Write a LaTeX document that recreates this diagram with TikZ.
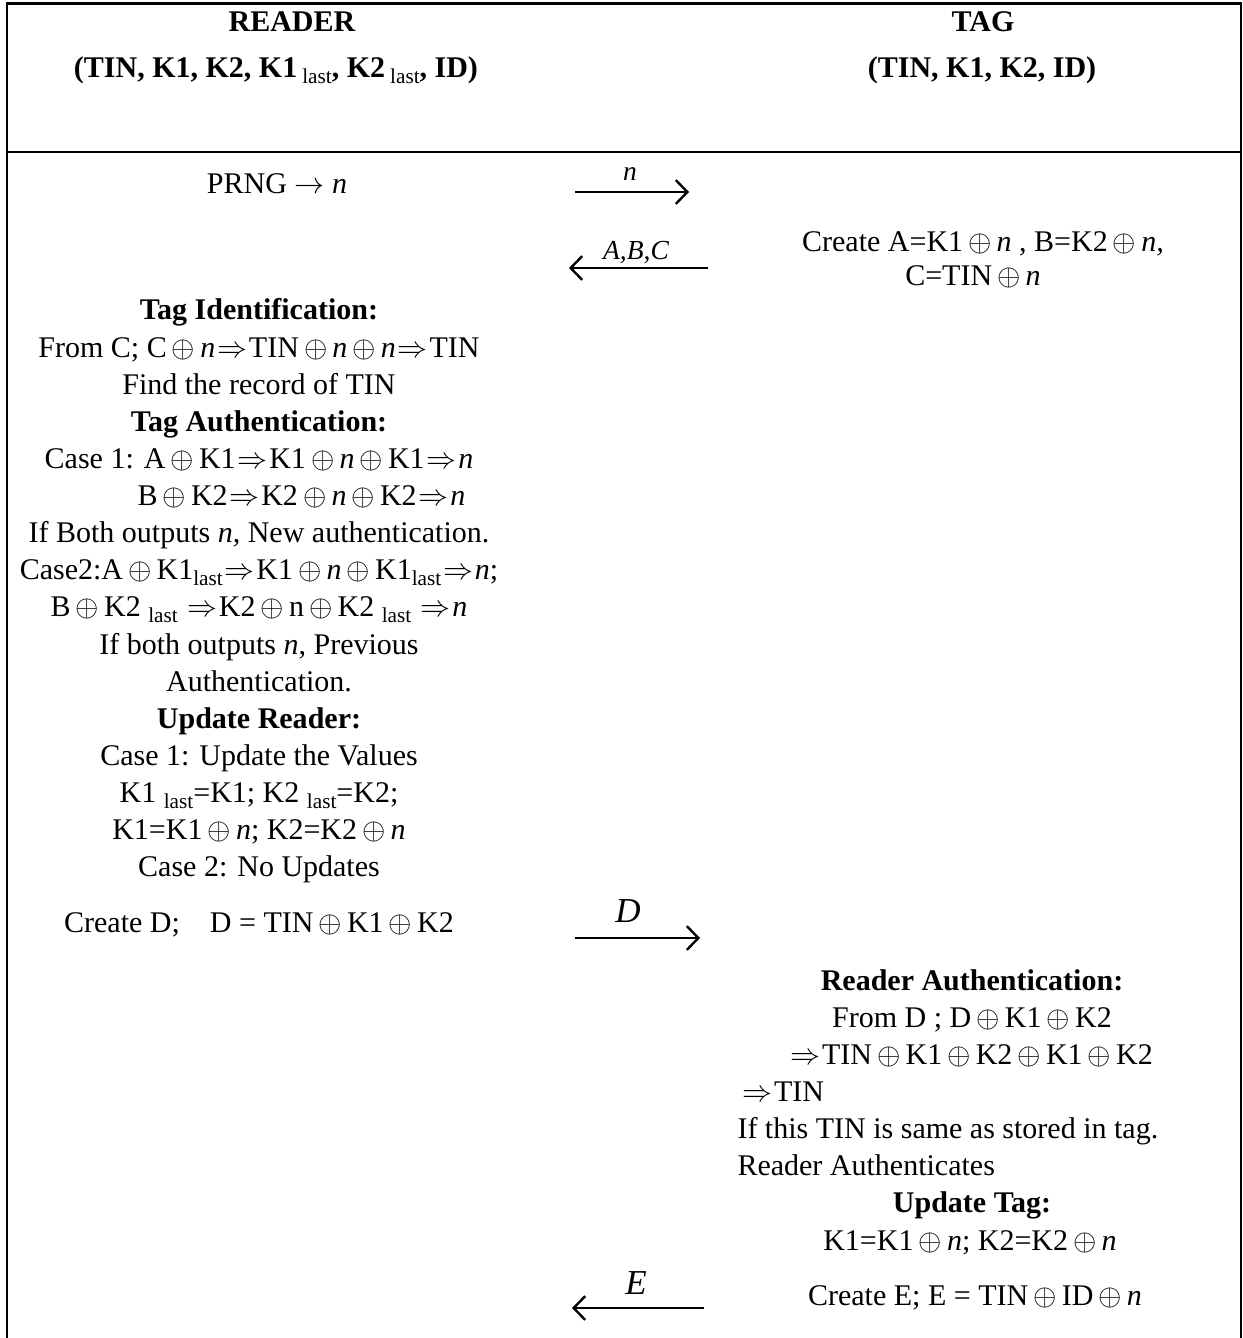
\documentclass[tikz,border=0pt]{standalone}
\usepackage{fontspec}
\setmainfont{Liberation Serif}
\usetikzlibrary{arrows.meta}
% xor, implication and the small "last" subscript
\newcommand\xo{\hspace{0.17em}$\oplus$\hspace{0.17em}}
\newcommand\thn{\hspace{0.06em}$\Rightarrow$\hspace{0.06em}}
\newcommand\sublast{{\mdseries\fontsize{8.5}{9}\selectfont\raisebox{-2.4pt}{last}}}
\newcommand\nn{\textit{n}}
\begin{document}
\begin{tikzpicture}[x=0.4pt,y=-0.4pt,
  font=\fontsize{12}{14}\selectfont,
  txt/.style={anchor=base, inner sep=0pt},
  txtl/.style={anchor=base west, inner sep=0pt},
  head/.style={txt, font=\fontsize{12}{14}\selectfont\bfseries},
  frame/.style={line width=0.85pt},
  msg/.style={line width=0.95pt, -{Straight Barb[length=4.6pt,width=9.5pt,line width=0.95pt]}},
  lbl/.style={anchor=base, inner sep=0pt, font=\fontsize{11}{13}\selectfont\itshape},
  biglbl/.style={lbl, font=\fontsize{14}{16}\selectfont\itshape}]
\useasboundingbox (0,0) rectangle (1243,1338);

% outer frame and header divider
\draw[frame] (7,1338) -- (7,3.5) -- (1241,3.5) -- (1241,1338);
\draw[frame] (7,152) -- (1241,152);

% header
\node[head] (rd) at (292,32) {READER};
\node[head] (rdv) at (276,78) {(TIN, K1, K2, K1\,\sublast, K2\,\sublast, ID)};
\node[head] (tg) at (983,32) {TAG};
\node[head] (tgv) at (982,78) {(TIN, K1, K2, ID)};

% reader side
\node[txt] (prng) at (277,194) {PRNG $\rightarrow$ \nn};
\node[txt] (r1) at (259,320) {\textbf{Tag Identification:}};
\node[txt] (r2) at (259,357) {From C; C\xo\nn\thn TIN\xo\nn\xo\nn\thn TIN};
\node[txt] (r3) at (259,394) {Find the record of TIN};
\node[txt] (r4) at (259,431) {\textbf{Tag Authentication:}};
\node[txt] (r5) at (259,468) {Case 1: A\xo K1\thn K1\xo\nn\xo K1\thn\nn};
\path (r5.base east) ++(-8,37) node[txt, anchor=base east] (r6) {B\xo K2\thn K2\xo\nn\xo K2\thn\nn};
\node[txt] (r7) at (259,542) {If Both outputs \textit{n,} New authentication.};
\node[txt] (r8) at (259,579) {Case2:A\xo K1\sublast\thn K1\xo\nn\xo K1\sublast\thn\nn;};
\node[txt] (r9) at (259,616) {B\xo K2 \sublast\ \thn K2\xo n\xo K2 \sublast\ \thn\nn};
\node[txt] (r10) at (259,654) {If both outputs \nn, Previous};
\node[txt] (r11) at (259,691) {Authentication.};
\node[txt] (r12) at (259,728) {\textbf{Update Reader:}};
\node[txt] (r13) at (259,765) {Case 1: Update the Values};
\node[txt] (r14) at (259,802) {K1 \sublast=K1; K2 \sublast=K2;};
\node[txt] (r15) at (259,839) {K1=K1\xo\nn; K2=K2\xo\nn};
\node[txt] (r16) at (259,876) {Case 2: No Updates};
\node[txt] (crd) at (259,932) {Create D;\quad D = TIN\xo K1\xo K2};

% tag side
\node[txt] (ta1) at (983,252) {Create A=K1\xo\nn\ , B=K2\xo\textit{n,}};
\node[txt] (ta2) at (973,286) {C=TIN\xo\nn};
\node[txt] (t1) at (972,990) {\textbf{Reader Authentication:}};
\node[txt] (t2) at (972,1027) {From D ; D\xo K1\xo K2};
\node[txtl] (t3) at (788,1064) {\thn TIN\xo K1\xo K2\xo K1\xo K2};
\node[txtl] (t4) at (740,1101) {\thn TIN};
\node[txtl] (t5) at (737,1138) {If this TIN is same as stored in tag.};
\node[txtl] (t6) at (737,1175) {Reader Authenticates};
\node[txt] (t7) at (972,1212) {\textbf{Update Tag:}};
\node[txt] (t8) at (970,1250) {K1=K1\xo\nn; K2=K2\xo\nn};
\node[txt] (cre) at (975,1305) {Create E; E = TIN\xo ID\xo\nn};

% messages
\coordinate (a1s) at (575,192); \coordinate (a1e) at (689,192);
\draw[msg] (a1s) -- (a1e);
\node[lbl] (l1) at (630,181) {n};
\coordinate (a2s) at (708,268); \coordinate (a2e) at (569,268);
\draw[msg] (a2s) -- (a2e);
\node[lbl] (l2) at (636,259) {A,B,C};
\coordinate (a3s) at (575,938); \coordinate (a3e) at (700,938);
\draw[msg] (a3s) -- (a3e);
\node[biglbl] (l3) at (628,922) {D};
\coordinate (a4s) at (704,1308); \coordinate (a4e) at (572,1308);
\draw[msg] (a4s) -- (a4e);
\node[biglbl] (l4) at (636,1294) {E};
\end{tikzpicture}
\end{document}
